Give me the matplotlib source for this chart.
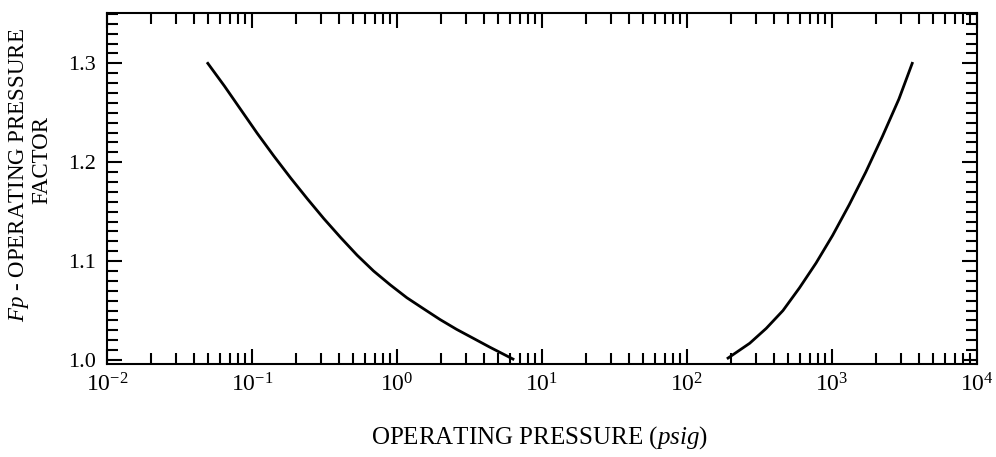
import numpy as np
import matplotlib.pyplot as plt
from matplotlib.ticker import LogLocator, MultipleLocator, FixedLocator

# left branch (low pressure / vacuum side)
p_low = [0.0496, 0.0646, 0.0839, 0.109, 0.142, 0.185, 0.241, 0.313, 0.408, 0.531,
         0.690, 0.899, 1.17, 1.52, 1.98, 2.58, 3.36, 4.37, 6.31]
fp_low = [1.300, 1.277, 1.253, 1.229, 1.206, 1.184, 1.163, 1.143, 1.124, 1.106,
          1.090, 1.076, 1.063, 1.052, 1.041, 1.031, 1.022, 1.013, 1.001]

# right branch (high pressure side)
p_high = [192, 271, 352, 459, 597, 776, 1010, 1315, 1710, 2226, 2897, 3576]
fp_high = [1.002, 1.017, 1.032, 1.050, 1.073, 1.098, 1.126, 1.157, 1.190, 1.226, 1.264, 1.300]

x_ticks = [1e-2, 1e-1, 1e0, 1e1, 1e2, 1e3, 1e4]
x_labels = ['$10^{-2}$', '$10^{-1}$', '$10^{0}$', '$10^{1}$', '$10^{2}$', '$10^{3}$', '$10^{4}$']
y_ticks = [1.0, 1.1, 1.2, 1.3]
y_labels = ['1.0', '1.1', '1.2', '1.3']

plt.rcParams['font.family'] = 'Liberation Serif'
plt.rcParams['mathtext.fontset'] = 'custom'
plt.rcParams['mathtext.rm'] = 'Liberation Serif'
plt.rcParams['mathtext.it'] = 'Liberation Serif:italic'

fig = plt.figure(figsize=(9.96, 4.57), dpi=100)
ax = fig.add_axes([0.1074, 0.2035, 0.8735, 0.7674])

ax.plot(p_low, fp_low, color='black', lw=2, solid_joinstyle='round')
ax.plot(p_high, fp_high, color='black', lw=2, solid_joinstyle='round')

ax.set_xscale('log')
ax.set_xlim(1e-2, 1e4)
ax.set_ylim(0.996, 1.3506)

ax.xaxis.set_minor_locator(LogLocator(base=10, subs=np.arange(2, 10), numticks=20))
ax.set_xticks(x_ticks)
ax.set_xticklabels(x_labels)
ax.yaxis.set_major_locator(FixedLocator(y_ticks))
ax.set_yticklabels(y_labels)
ax.yaxis.set_minor_locator(MultipleLocator(0.01))

ax.tick_params(which='both', direction='in', top=True, right=True, width=1.5, color='black')
ax.tick_params(which='major', length=11)
ax.tick_params(which='minor', length=8)
ax.tick_params(axis='x', which='major', labelsize=17, pad=7)
ax.tick_params(axis='y', which='major', labelsize=16, pad=8)
for s in ax.spines.values():
    s.set_linewidth(1.5)

fig.text(540 / 996, 1 - 438 / 457, 'OPERATING PRESSURE ($\\it{psig}$)',
         ha='center', va='center', fontsize=18)
fig.text(19 / 996, 1 - 175 / 457, '$\\it{Fp}$ - OPERATING PRESSURE',
         ha='center', va='center', rotation=90, fontsize=16.5)
fig.text(42 / 996, 1 - 160 / 457, 'FACTOR',
         ha='center', va='center', rotation=90, fontsize=16.5)

fig.savefig('out.png', dpi=100)
